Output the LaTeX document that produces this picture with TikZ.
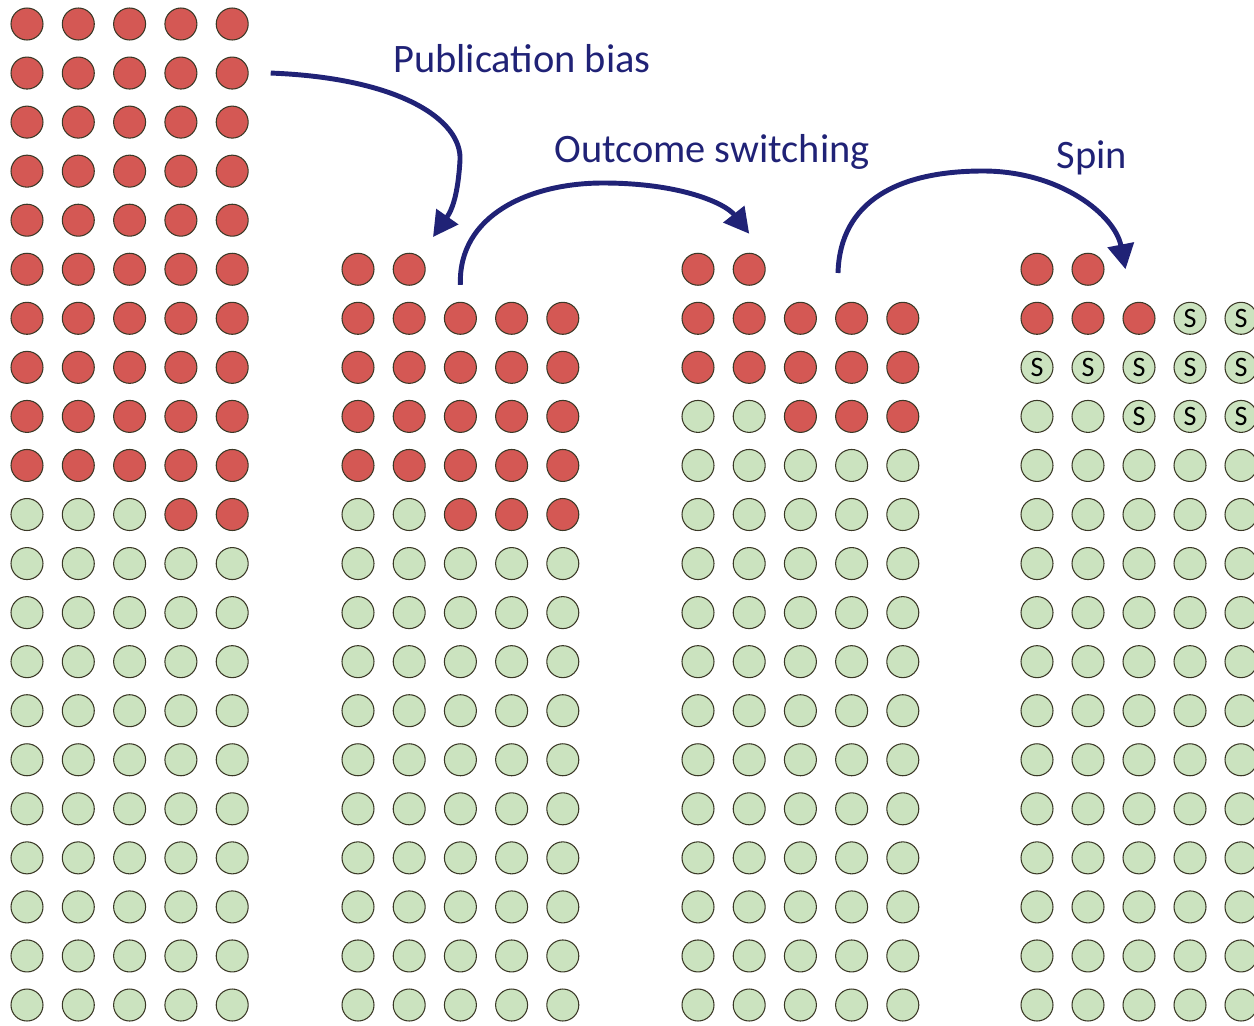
\documentclass[tikz,border=0pt]{standalone}
\usepackage{fontspec}
\setmainfont{Carlito}
\usetikzlibrary{arrows.meta, positioning}

\definecolor{dotred}{HTML}{D45854}
\definecolor{dotgreen}{HTML}{CBE3BF}
\definecolor{dotline}{HTML}{3A3826}
\definecolor{biasblue}{HTML}{202276}

\begin{document}
\begin{tikzpicture}[
    x=0.02cm, y=-0.02cm,
    dot/.style={circle, minimum size=0.64cm, inner sep=0pt, draw=dotline, line width=0.6pt},
    redDot/.style={dot, fill=dotred},
    greenDot/.style={dot, fill=dotgreen},
    spinDot/.style={greenDot, font=\fontsize{16}{18}\selectfont},
    biasArrow/.style={draw=biasblue, line width=2.8pt, -{Triangle[length=0.5cm, width=0.52cm]}},
    biasText/.style={text=biasblue, font=\fontsize{23}{28}\selectfont, anchor=base}
]
\useasboundingbox (0,0) rectangle (1254,1025);

% Column 1 - all trials
\foreach \r in {0,...,20} {
    \foreach \j in {0,...,4} {
        \pgfmathtruncatemacro{\k}{\r*5 + 4 - \j}
        \ifnum\k<52
            \node[redDot] (all-\r-\j) at (\j*51.3 + 27, \r*49.05 + 24) {};
        \else
            \node[greenDot] (all-\r-\j) at (\j*51.3 + 27, \r*49.05 + 24) {};
        \fi
    }
}

% Column 2 - published trials
\foreach \j in {0,1}
    \node[redDot] (pub-5-\j) at (\j*51.2 + 358, 5*49.05 + 24) {};
\foreach \r in {6,...,20} {
    \foreach \j in {0,...,4} {
        \pgfmathtruncatemacro{\k}{(\r-6)*5 + 4 - \j}
        \ifnum\k<23
            \node[redDot] (pub-\r-\j) at (\j*51.2 + 358, \r*49.05 + 24) {};
        \else
            \node[greenDot] (pub-\r-\j) at (\j*51.2 + 358, \r*49.05 + 24) {};
        \fi
    }
}

% Column 3 - after outcome switching
\foreach \j in {0,1}
    \node[redDot] (sw-5-\j) at (\j*51.2 + 698, 5*49.05 + 24) {};
\foreach \r in {6,...,20} {
    \foreach \j in {0,...,4} {
        \pgfmathtruncatemacro{\k}{(\r-6)*5 + 4 - \j}
        \ifnum\k<13
            \node[redDot] (sw-\r-\j) at (\j*51.2 + 698, \r*49.05 + 24) {};
        \else
            \node[greenDot] (sw-\r-\j) at (\j*51.2 + 698, \r*49.05 + 24) {};
        \fi
    }
}

% Column 4 - after spin (S = spun)
\foreach \j in {0,1}
    \node[redDot] (sp-5-\j) at (\j*51 + 1037, 5*49.05 + 24) {};
\foreach \r in {6,...,20} {
    \foreach \j in {0,...,4} {
        \pgfmathtruncatemacro{\k}{(\r-6)*5 + 4 - \j}
        \ifnum\r=6 \ifnum\j<3
            \node[redDot] (sp-\r-\j) at (\j*51 + 1037, \r*49.05 + 24) {};
        \else
            \node[spinDot] (sp-\r-\j) at (\j*51 + 1037, \r*49.05 + 24) {S};
        \fi \else
        \ifnum\k<13
            \node[spinDot] (sp-\r-\j) at (\j*51 + 1037, \r*49.05 + 24) {S};
        \else
            \node[greenDot] (sp-\r-\j) at (\j*51 + 1037, \r*49.05 + 24) {};
        \fi \fi
    }
}

% Arrows
\coordinate[right=0.44cm of all-1-4] (pubStart);
\coordinate (pubBend) at (460, 160);
\coordinate (pubEnd) at (433, 237);
\draw[biasArrow] (pubStart) .. controls (400, 78) and (462, 120) .. (pubBend)
    .. controls (458, 195) and (452, 210) .. (pubEnd);

\coordinate[above=0.34cm of pub-6-2] (switchStart);
\coordinate (switchTop) at (603, 183);
\coordinate[above=0.38cm of sw-5-1] (switchEnd);
\draw[biasArrow] (switchStart) .. controls (458, 215) and (530, 183) .. (switchTop)
    .. controls (680, 183) and (725, 203) .. (switchEnd);

\coordinate (spinStart) at (838, 273);
\coordinate (spinTop) at (983, 171);
\coordinate[right=0.42cm of sp-5-1] (spinEnd);
\draw[biasArrow] (spinStart) .. controls (840, 200) and (900, 171) .. (spinTop)
    .. controls (1060, 171) and (1115, 215) .. (spinEnd);

% Labels
\node[biasText] (pubText) at (522, 72) {Publication bias};
\node[biasText] (switchText) at (712, 162) {Outcome switching};
\node[biasText] (spinText) at (1092, 168) {Spin};

\end{tikzpicture}
\end{document}
